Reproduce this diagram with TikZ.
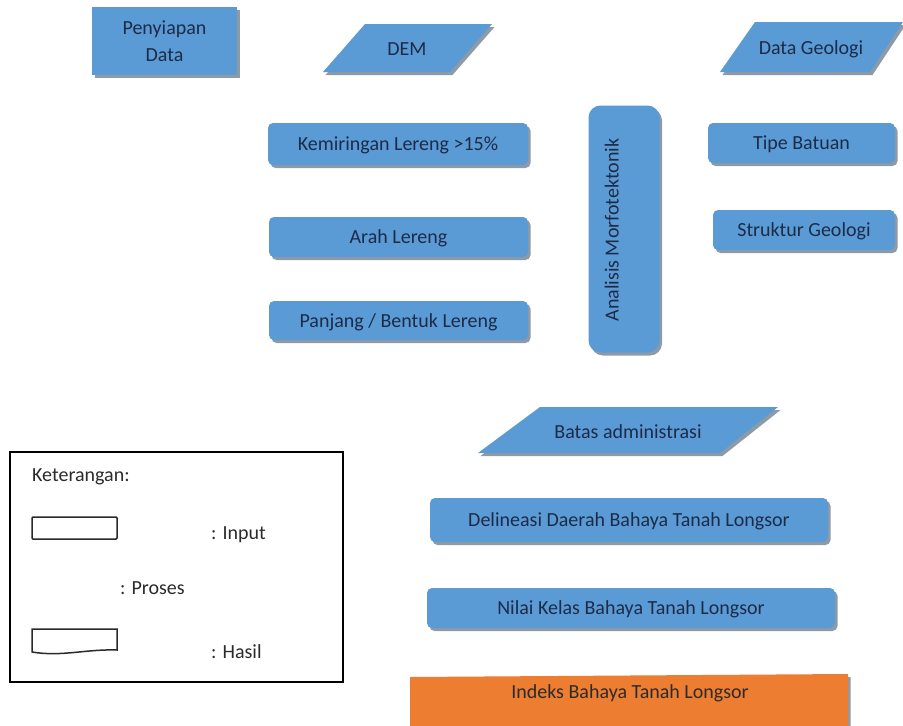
\documentclass[tikz,border=0pt]{standalone}
\usepackage{fontspec}
\setmainfont{Carlito}
\usetikzlibrary{shadows}
\definecolor{boxblue}{HTML}{5B9BD5}
\definecolor{txtblue}{HTML}{1C2B48}
\definecolor{shadowc}{HTML}{8E9AA6}
\definecolor{orangebox}{HTML}{ED7D31}
\definecolor{legtxt}{HTML}{2B2B2B}
\tikzset{
  every node/.style={font=\fontsize{20}{27}\selectfont},
  shad/.style={drop shadow={shadow xshift=2.5pt, shadow yshift=-3pt, fill=shadowc, opacity=1}},
  procbox/.style={shad, fill=boxblue, rounded corners=5pt, inner sep=0pt, text=txtblue, align=center},
  oneline/.style={text height=13pt, text depth=0pt},
  datashape/.style={shad, fill=boxblue},
  lbl/.style={text=txtblue, inner sep=0pt, oneline},
  legtext/.style={text=legtxt, anchor=west, inner sep=0pt},
  legsym/.style={draw=legtxt, line width=1.5pt, fill=white, rounded corners=1pt}
}
\begin{document}
\begin{tikzpicture}[x=1pt,y=-1pt]
\useasboundingbox (0,0) rectangle (903,726);
\fill[white] (0,0) rectangle (903,726);

% top row
\node[procbox, rounded corners=0pt, minimum width=145pt, minimum height=68pt] (prep) at (164.5,41) {Penyiapan\\Data};
\path[datashape] (365,24) -- (492,24) -- (450,72) -- (323,72) -- cycle;
\node[lbl] (dem) at (407,49) {DEM};
\path[datashape] (755,22) -- (903,22) -- (870,72) -- (720,72) -- cycle;
\node[lbl] (geo) at (811,48) {Data Geologi};

% DEM derived
\node[procbox, oneline, minimum width=260pt, minimum height=42pt] (slope) at (398,144) {Kemiringan Lereng >15\%};
\node[procbox, oneline, minimum width=259pt, minimum height=40pt] (aspect) at (398.5,237) {Arah Lereng};
\node[procbox, oneline, minimum width=259pt, minimum height=39pt] (length) at (398.5,320.5) {Panjang / Bentuk Lereng};

% morfotektonik
\node[procbox, rounded corners=12pt, minimum width=71pt, minimum height=247pt] (morfo) at (624,229) {};
\node[lbl, rotate=90] (morfotxt) at (612,230) {Analisis Morfotektonik};

% geology derived
\node[procbox, oneline, minimum width=187pt, minimum height=40pt] (rock) at (801.5,143) {Tipe Batuan};
\node[procbox, oneline, minimum width=182pt, minimum height=40pt] (struct) at (804,230) {Struktur Geologi};

% bottom chain
\path[datashape] (540,407) -- (778,407) -- (720,453) -- (478,453) -- cycle;
\node[lbl] (admin) at (628,432) {Batas administrasi};
\node[procbox, oneline, minimum width=398pt, minimum height=44pt] (delin) at (629,520) {Delineasi Daerah Bahaya Tanah Longsor};
\node[procbox, oneline, minimum width=408pt, minimum height=40pt] (nilai) at (631,608) {Nilai Kelas Bahaya Tanah Longsor};
\path[shad, fill=orangebox] (410,677) -- (848,674) -- (848,730) -- (410,730) -- cycle;
\node[lbl, text=legtxt] (indeks) at (630,692) {Indeks Bahaya Tanah Longsor};

% legend
\node[draw=black, line width=2pt, minimum width=333pt, minimum height=230pt, inner sep=0pt] (legend) at (176.5,567) {};
\node[legtext] (ket) at (32,477) {Keterangan:};
\path[legsym] (32,517) rectangle (117,539);
\node[legtext] (inp) at (211,535) {: Input};
\node[legtext] (pros) at (120,588) {: Proses};
\path[legsym, rounded corners=0pt] (32,629) -- (117,629) -- (117,650) .. controls (85,649) and (62,657) .. (32,652) -- cycle;
\node[legtext] (has) at (211,652) {: Hasil};
\end{tikzpicture}
\end{document}
